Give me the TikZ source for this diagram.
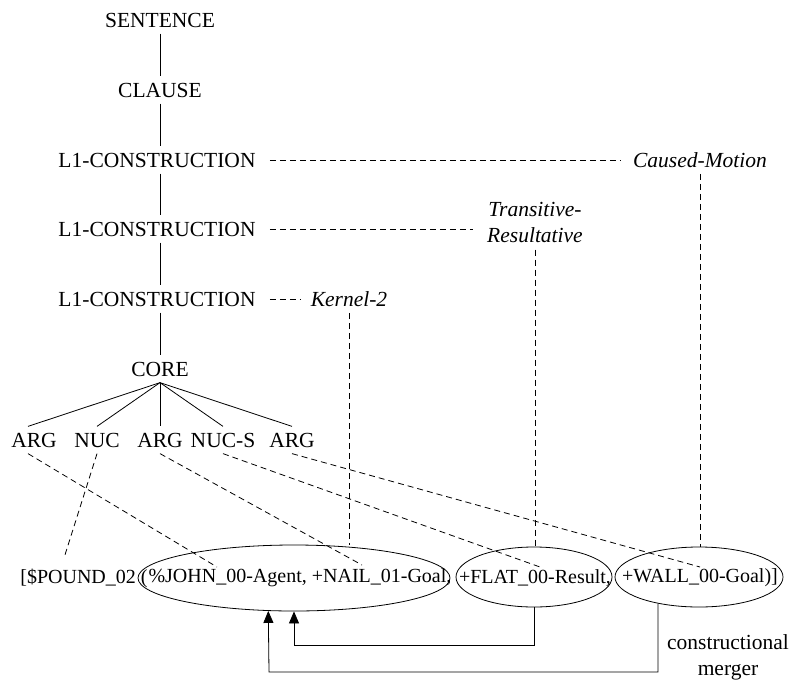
\documentclass[tikz,border=0pt]{standalone}
\usepackage{fontspec}
\setmainfont{Liberation Serif}
\usetikzlibrary{shapes.geometric,arrows.meta,positioning,calc}

\begin{document}
\begin{tikzpicture}[x=1pt, y=-1pt, line width=0.8pt,
    lab/.style={inner sep=6pt, font=\fontsize{21.5}{26}\selectfont},
    ital/.style={lab, font=\fontsize{21.5}{26}\selectfont\itshape},
    bot/.style={inner sep=0pt, font=\fontsize{20}{24}\selectfont},
    ell/.style={draw, ellipse, inner sep=0pt},
    link/.style={dash pattern=on 6pt off 4pt, line width=0.8pt},
    merge/.style={-{Triangle[length=12pt,width=10pt]}}]
    \useasboundingbox (0,0) rectangle (791,679);
    % tree spine
    \node[lab] (sent) at (160,20) {SENTENCE};
    \node[lab] (clause) at (160,90) {CLAUSE};
    \node[lab] (lone) at (157,160) {L1-CONSTRUCTION};
    \node[lab] (ltwo) at (157,229) {L1-CONSTRUCTION};
    \node[lab] (lthree) at (157,299) {L1-CONSTRUCTION};
    \node[lab] (core) at (160,369) {CORE};
    \node[lab] (argA) at (34,440) {ARG};
    \node[lab] (nuc) at (97,440) {NUC};
    \node[lab] (argB) at (160,440) {ARG};
    \node[lab] (nucs) at (223,440) {NUC-S};
    \node[lab] (argC) at (292,440) {ARG};
    \draw (sent.south -| 160,0) -- (clause.north -| 160,0);
    \draw (clause.south -| 160,0) -- (lone.north -| 160,0);
    \draw (lone.south -| 160,0) -- (ltwo.north -| 160,0);
    \draw (ltwo.south -| 160,0) -- (lthree.north -| 160,0);
    \draw (lthree.south -| 160,0) -- (core.north -| 160,0);
    \foreach \d/\x in {argA/28, nuc/97, argB/160, nucs/223, argC/292}
        \draw (core.south) -- (\d.north -| \x,0);
    % constructions
    \node[ital] (caused) at (700,160) {Caused-Motion};
    \node[ital, align=center] (transres) at (535,223) {Transitive-\\Resultative};
    \node[ital] (kernel) at (349,299) {Kernel-2};
    \draw[link, shorten <=8pt, shorten >=6pt] (lone.east) -- (caused.west);
    \draw[link, shorten <=8pt, shorten >=8pt] (ltwo.east) -- (ltwo.east -| transres.west);
    \draw[link, shorten <=8pt, shorten >=3pt] (lthree.east) -- (kernel.west);
    % logical structure
    \node[bot, anchor=east] (pound) at (148,578) {[\$POUND\_02 (};
    \node[bot] (john) at (300,578) {\%JOHN\_00-Agent, +NAIL\_01-Goal,};
    \node[bot] (flat) at (535,578) {+FLAT\_00-Result,};
    \node[bot] (wall) at (700,578) {+WALL\_00-Goal)]};
    \node[ell, minimum width=312pt, minimum height=66pt] (johnE) at (294,578) {};
    \node[ell, minimum width=156pt, minimum height=60pt] (flatE) at (534,577) {};
    \node[ell, minimum width=168pt, minimum height=60pt] (wallE) at (699,577) {};
    \draw[link] (kernel.south) -- (kernel.south |- johnE.north);
    \draw[link] (transres.south) -- (transres.south |- flatE.north);
    \draw[link] (caused.south) -- (caused.south |- wallE.north);
    % links from the core
    \coordinate (tPound) at (64,558);
    \coordinate (tJohn) at (217,567);
    \coordinate (tNail) at (362,565);
    \coordinate (tFlat) at (540,567);
    \coordinate (tWall) at (700,567);
    \draw[link] (argA.south -| 28,0) -- (tJohn);
    \draw[link] (nuc.south) -- (tPound);
    \draw[link] (argB.south) -- (tNail);
    \draw[link] (nucs.south) -- (tFlat);
    \draw[link] (argC.south) -- (tWall);
    % merger
    \coordinate (mOne) at (294,645);
    \coordinate (mTwo) at (269,672);
    \draw[merge] (flatE.south) |- (mOne) -- (johnE.south);
    \draw[merge] (wallE.213) |- (mTwo) -- (johnE.232);
    \node[lab, align=center] (merger) at (728,657) {constructional\\merger};
\end{tikzpicture}
\end{document}
